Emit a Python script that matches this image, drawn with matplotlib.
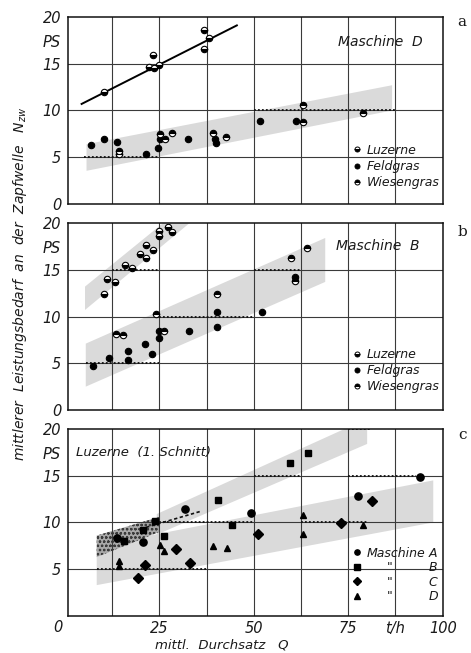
import matplotlib
matplotlib.use("Agg")
import matplotlib.pyplot as plt
from matplotlib.lines import Line2D
from matplotlib.patches import Polygon

plt.rcParams.update({
    "font.family": ["DejaVu Sans"],
    "font.style": "italic",
    "font.size": 10,
    "text.color": "#1a1a1a",
    "xtick.color": "#1a1a1a",
    "ytick.color": "#1a1a1a",
    "hatch.linewidth": 0.6,
})

# ---- data -----------------------------------------------------------------
# panel a: Maschine D
a_luz_x = [10.3, 22.3, 23.2, 23.6, 24.8, 36.8, 36.8, 38.2]
a_luz_y = [11.95, 14.7, 15.9, 14.5, 14.9, 18.6, 16.6, 17.7]
a_fit_x = [4.4, 45.5]
a_fit_y = [10.7, 19.1]
a_feld_x = [6.9, 10.3, 13.8, 21.4, 24.7, 25.2, 32.7, 39.7, 39.9, 51.5, 61.2]
a_feld_y = [6.3, 7.0, 6.65, 5.3, 6.0, 6.9, 7.0, 6.9, 6.5, 8.9, 8.9]
a_wies_x = [14.4, 14.4, 25.2, 26.5, 28.3, 39.1, 42.6, 63.1, 63.1, 79.0]
a_wies_y = [5.7, 5.4, 7.5, 7.0, 7.6, 7.6, 7.2, 10.6, 8.75, 9.75]

# panel b: Maschine B
b_luz_x = [10.3, 11.0, 13.2, 15.9, 17.8, 19.9, 21.4, 21.4, 23.2, 24.9, 24.9, 27.4, 28.3]
b_luz_y = [12.4, 14.0, 13.7, 15.5, 15.2, 16.7, 17.7, 16.3, 17.1, 19.1, 18.6, 19.6, 19.0]
b_feld_x = [7.5, 11.7, 16.6, 16.8, 21.2, 23.1, 25.0, 25.0, 32.8, 40.2, 40.2, 52.1, 60.9]
b_feld_y = [4.7, 5.6, 6.35, 5.4, 7.1, 5.95, 7.7, 8.5, 8.45, 10.5, 8.9, 10.5, 14.25]
b_wies_x = [13.5, 15.4, 24.1, 26.3, 40.2, 59.8, 60.9, 64.0]
b_wies_y = [8.1, 8.0, 10.3, 8.5, 12.4, 16.3, 13.8, 17.35]

# panel c: Luzerne (1. Schnitt), machines A-D
c_A_x = [13.8, 20.6, 31.8, 49.3, 77.7, 93.9]
c_A_y = [8.3, 7.9, 11.4, 11.0, 12.85, 14.9]
c_B_x = [15.6, 20.7, 23.8, 26.3, 40.4, 44.1, 59.6, 64.3]
c_B_y = [8.0, 9.2, 10.2, 8.5, 12.4, 9.7, 16.35, 17.4]
c_C_x = [19.2, 21.2, 29.3, 33.1, 51.2, 73.2, 81.3]
c_C_y = [4.1, 5.5, 7.2, 5.7, 8.8, 9.9, 12.3]
c_D_x = [14.3, 14.3, 25.2, 26.3, 39.1, 42.8, 63.1, 63.1, 79.0]
c_D_y = [5.9, 5.3, 7.6, 6.95, 7.5, 7.25, 10.75, 8.8, 9.75]
c_trend_x = [20.0, 36.0]
c_trend_y = [9.3, 11.2]

# scatter bands (corner points)
band_a = [(5.7, 3.55), (86.6, 10.0), (86.6, 12.7), (5.7, 6.4)]
band_b_up = [(5.3, 10.7), (33.0, 20.0), (26.0, 20.0), (5.3, 13.2)]
band_b_low = [(5.5, 2.5), (68.9, 13.7), (68.9, 18.4), (5.5, 7.1)]
band_c_low = [(8.4, 3.3), (97.5, 10.0), (97.5, 14.5), (8.4, 7.5)]
band_c_up = [(24.3, 8.7), (80.0, 18.4), (80.0, 20.0), (74.0, 20.0), (24.3, 10.9)]
band_c_dark = [(8.4, 6.3), (25.0, 9.0), (25.0, 10.6), (8.4, 8.6)]

# dotted grid pieces: (y, x from, x to)
dots_a = [(5, 5.0, 25), (10, 50, 87.5)]
dots_b = [(15, 12.5, 25), (10, 25, 50), (5, 5.5, 25), (15, 50, 62.5)]
dots_c = [(5, 8.4, 37.5), (10, 25, 50), (10, 62.5, 80), (15, 50, 62.5),
          (15, 75, 93), (20, 75, 81)]

GRID = "#3a3a3a"
BAND = "#dadada"

fig = plt.figure(figsize=(4.71, 6.53), dpi=100)
L, W, H = 0.1444, 0.7955, 0.2864
ax_a = fig.add_axes([L, 0.6876, W, H])
ax_b = fig.add_axes([L, 0.3721, W, H])
ax_c = fig.add_axes([L, 0.0567, W, H])


def base(ax, zero=True):
    ax.set_xlim(0.8, 100)
    ax.set_ylim(0, 20)
    for xv in [12.5, 25, 37.5, 50, 62.5, 75, 87.5]:
        ax.axvline(xv, color=GRID, lw=0.8, zorder=1)
    for yv in [5, 10, 15]:
        ax.axhline(yv, color=GRID, lw=0.8, zorder=1)
    yt = [0, 5, 10, 15, 17.4, 20] if zero else [5, 10, 15, 17.4, 20]
    yl = ["0", "5", "10", "15", "PS", "20"] if zero else ["5", "10", "15", "PS", "20"]
    ax.set_yticks(yt)
    ax.set_yticklabels(yl)
    ax.tick_params(length=0, labelsize=10.5, pad=5)
    ax.set_xticks([])
    for s in ax.spines.values():
        s.set_linewidth(1.1)
        s.set_color("#111111")


def band(ax, pts, **kw):
    kw.setdefault("facecolor", BAND)
    ax.add_patch(Polygon(pts, closed=True, edgecolor="none", zorder=0, **kw))


def dotted(ax, segs):
    for yv, x0, x1 in segs:
        ax.plot([x0, x1], [yv, yv], color="#111111", lw=1.3,
                ls=(0, (1, 1.2)), zorder=2)


mk = dict(ls="none", ms=4.6, mec="black", mew=0.8, zorder=4)
luz = dict(marker="o", mfc="black", mfcalt="white", fillstyle="bottom", **mk)
feld = dict(marker="o", mfc="black", **mk)
wies = dict(marker="o", mfc="black", mfcalt="white", fillstyle="top", **mk)

# ---- a --------------------------------------------------------------------
base(ax_a)
band(ax_a, band_a)
dotted(ax_a, dots_a)
ax_a.plot(a_fit_x, a_fit_y, color="black", lw=1.4, zorder=3)
ax_a.plot(a_luz_x, a_luz_y, **luz)
ax_a.plot(a_feld_x, a_feld_y, **feld)
ax_a.plot(a_wies_x, a_wies_y, **wies)
ax_a.text(83.6, 17.3, "Maschine  D", ha="center", va="center", fontsize=10)

# ---- b --------------------------------------------------------------------
base(ax_b)
band(ax_b, band_b_up)
band(ax_b, band_b_low)
dotted(ax_b, dots_b)
ax_b.plot(b_luz_x, b_luz_y, **luz)
ax_b.plot(b_feld_x, b_feld_y, **feld)
ax_b.plot(b_wies_x, b_wies_y, **wies)
ax_b.text(82.9, 17.5, "Maschine  B", ha="center", va="center", fontsize=10)

leg_kw = dict(loc="lower left", frameon=False, fontsize=9, handlelength=0.6,
              handletextpad=0.5, borderpad=0, borderaxespad=0, labelspacing=0.25)
sm = dict(ls="none", mec="black", mew=0.7, ms=3.6)
h_luz = Line2D([], [], marker="o", mfc="black", mfcalt="white", fillstyle="bottom", **sm)
h_feld = Line2D([], [], marker="o", mfc="black", **sm)
h_wies = Line2D([], [], marker="o", mfc="black", mfcalt="white", fillstyle="top", **sm)
for ax, y0 in ((ax_a, 0.08), (ax_b, 0.089)):
    ax.legend([h_luz, h_feld, h_wies], ["Luzerne", "Feldgras", "Wiesengras"],
              bbox_to_anchor=(0.761, y0), **leg_kw)

# ---- c --------------------------------------------------------------------
base(ax_c, zero=False)
band(ax_c, band_c_low)
band(ax_c, band_c_up)
band(ax_c, band_c_dark, facecolor="#a8a8a8", hatch="oooo")
ax_c.patches[-1].set_edgecolor("#3c3c3c")
ax_c.patches[-1].set_linewidth(0)
dotted(ax_c, dots_c)
ax_c.plot(c_trend_x, c_trend_y, color="#111111", lw=1.2, ls=(0, (2, 1.5)), zorder=2)
cm = dict(ls="none", mfc="black", mec="black", zorder=4)
ax_c.plot(c_A_x, c_A_y, marker="o", ms=5.2, **cm)
ax_c.plot(c_B_x, c_B_y, marker="s", ms=5.0, **cm)
ax_c.plot(c_C_x, c_C_y, marker="D", ms=5.0, **cm)
ax_c.plot(c_D_x, c_D_y, marker="^", ms=5.0, **cm)
ax_c.text(20.9, 17.5, "Luzerne  (1. Schnitt)", ha="center", va="center", fontsize=9.5)

ax_c.set_xticks([25, 50, 75, 87.5, 100])
ax_c.set_xticklabels(["25", "50", "75", "t/h", "100"])
ax_c.tick_params(axis="x", length=0, labelsize=10.5, pad=3.5)
ax_c.text(-1.9, -1.2, "0", ha="center", va="center", fontsize=10.5, clip_on=False)

lsm = dict(ls="none", mfc="black", mec="black", ms=3.8)
hc = [Line2D([], [], marker="o", **lsm), Line2D([], [], marker="s", **lsm),
      Line2D([], [], marker="D", ms=3.6, ls="none", mfc="black", mec="black"),
      Line2D([], [], marker="^", **lsm)]
blank = [Line2D([], [], ls="none") for _ in range(4)]
ckw = dict(leg_kw, labelspacing=0.12)
l1 = ax_c.legend(hc, ["Maschine", "", "", ""], bbox_to_anchor=(0.761, 0.068), **ckw)
ax_c.add_artist(l1)
ckw0 = dict(ckw, handlelength=0, handletextpad=0)
l2 = ax_c.legend(blank, ["", '"', '"', '"'], bbox_to_anchor=(0.852, 0.068), **ckw0)
ax_c.add_artist(l2)
ax_c.legend(blank, ["A", "B", "C", "D"], bbox_to_anchor=(0.962, 0.068), **ckw0)

# ---- figure texts ----------------------------------------------------------
fig.text(0.042, 0.565, r"mittlerer  Leistungsbedarf  an  der  Zapfwelle   $N_{zw}$",
         rotation=90, ha="center", va="center", fontsize=10)
fig.text(0.471, 0.002, "mittl.  Durchsatz   Q", ha="center", va="bottom", fontsize=9.5)
for lab, yy in (("a", 0.966), ("b", 0.645), ("c", 0.334)):
    fig.text(0.981, yy, lab, ha="center", va="center", fontsize=11,
             family="DejaVu Serif", style="normal")

fig.savefig("out.png", dpi=100, facecolor="white")
